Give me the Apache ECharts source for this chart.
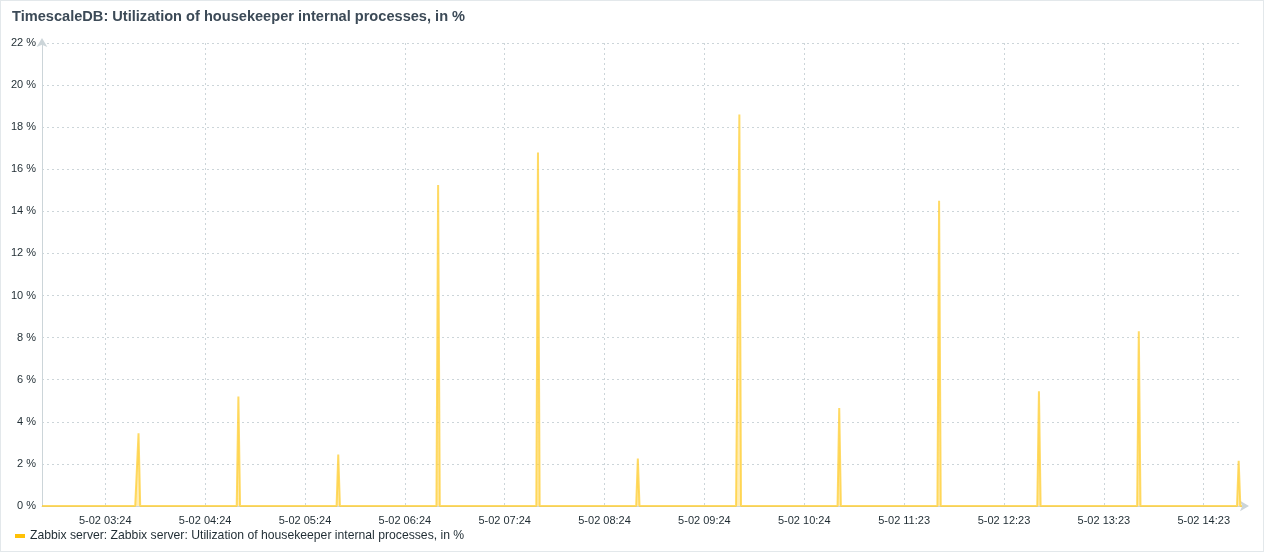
<!DOCTYPE html>
<html>
<head>
<meta charset="utf-8">
<script src="https://cdn.jsdelivr.net/npm/echarts@6/dist/echarts.min.js"></script>
<style>
html,body{margin:0;padding:0;background:#fff;}
#frame{position:absolute;left:0;top:0;width:1262px;height:550px;border:1px solid #e3e8eb;box-sizing:content-box;}
#chart{width:1262px;height:550px;}
</style>
</head>
<body>
<div id="frame"><div id="chart"></div></div>
<script>
// ---- data ----
const titleText = 'TimescaleDB: Utilization of housekeeper internal processes, in %';
const seriesName = 'Zabbix server: Zabbix server: Utilization of housekeeper internal processes, in %';
const sampleCount = 722; // one sample per minute across the window
const tickLabels = ['5-02 03:24','5-02 04:24','5-02 05:24','5-02 06:24','5-02 07:24','5-02 08:24',
                    '5-02 09:24','5-02 10:24','5-02 11:23','5-02 12:23','5-02 13:23','5-02 14:23'];
const firstTickIndex = 38;
const tickStep = 60;
const spikeIndex = [58, 118, 178, 238, 298, 358, 419, 479, 539, 599, 659, 719];
const spikeValue = [3.45, 5.2, 2.45, 15.25, 16.8, 2.25, 18.6, 4.65, 14.5, 5.45, 8.3, 2.15];
const yMin = 0, yMax = 22, yStep = 2;

// ---- build series from the sparse spike list ----
const categories = [];
const values = [];
for (let i = 0; i < sampleCount; i++) { categories.push(i); values.push(0); }
spikeIndex.forEach((idx, k) => { values[idx] = spikeValue[k]; });

const isTick = (i) => i >= firstTickIndex && (i - firstTickIndex) % tickStep === 0;

const chart = echarts.init(document.getElementById('chart'), null, {renderer: 'canvas'});
const txt = '#1f2c33';
const gridCol = '#ccd5d9';
chart.setOption({
  animation: false,
  title: {
    text: titleText, left: 6, top: 3,
    textStyle: {fontFamily: 'Liberation Sans, Arial, sans-serif', fontSize: 14.6, fontWeight: 'bold', color: '#3c4a57'}
  },
  legend: {
    left: 9, top: 524, itemWidth: 10, itemHeight: 4, itemGap: 10,
    icon: 'rect',
    textStyle: {fontFamily: 'Liberation Sans, Arial, sans-serif', fontSize: 12.2, color: txt},
    data: [{name: seriesName, itemStyle: {color: '#ffc107'}}]
  },
  grid: {left: 41, right: 21, top: 42, bottom: 45, containLabel: false},
  xAxis: {
    type: 'category', data: categories, boundaryGap: false,
    axisLine: {show: true, lineStyle: {color: gridCol, width: 1}, symbol: ['none', 'arrow'], symbolSize: [8, 9], symbolOffset: [0, 7]},
    axisTick: {show: false},
    axisLabel: {
      interval: (i) => isTick(i),
      formatter: (v, i) => isTick(i) ? tickLabels[(i - firstTickIndex) / tickStep] : '',
      fontFamily: 'Liberation Sans, Arial, sans-serif', fontSize: 11, color: txt, margin: 9
    },
    splitLine: {show: true, interval: (i) => isTick(i), lineStyle: {color: gridCol, type: [2, 3], width: 1}}
  },
  yAxis: {
    type: 'value', min: yMin, max: yMax, interval: yStep,
    axisLine: {show: true, lineStyle: {color: gridCol, width: 1}, symbol: ['none', 'arrow'], symbolSize: [8, 9], symbolOffset: [0, 5]},
    axisTick: {show: false},
    axisLabel: {formatter: (v) => v + ' %', fontFamily: 'Liberation Sans, Arial, sans-serif', fontSize: 11, color: txt, margin: 6},
    splitLine: {show: true, lineStyle: {color: gridCol, type: [2, 3], width: 1}}
  },
  series: [{
    name: seriesName, type: 'line', data: values,
    showSymbol: false, symbol: 'none',
    itemStyle: {color: '#ffc107'},
    lineStyle: {color: 'rgba(255,205,50,0.75)', width: 2},
    areaStyle: {color: 'rgba(255,205,60,0.55)', origin: 'start'},
    z: 3
  }]
});
</script>
</body>
</html>
